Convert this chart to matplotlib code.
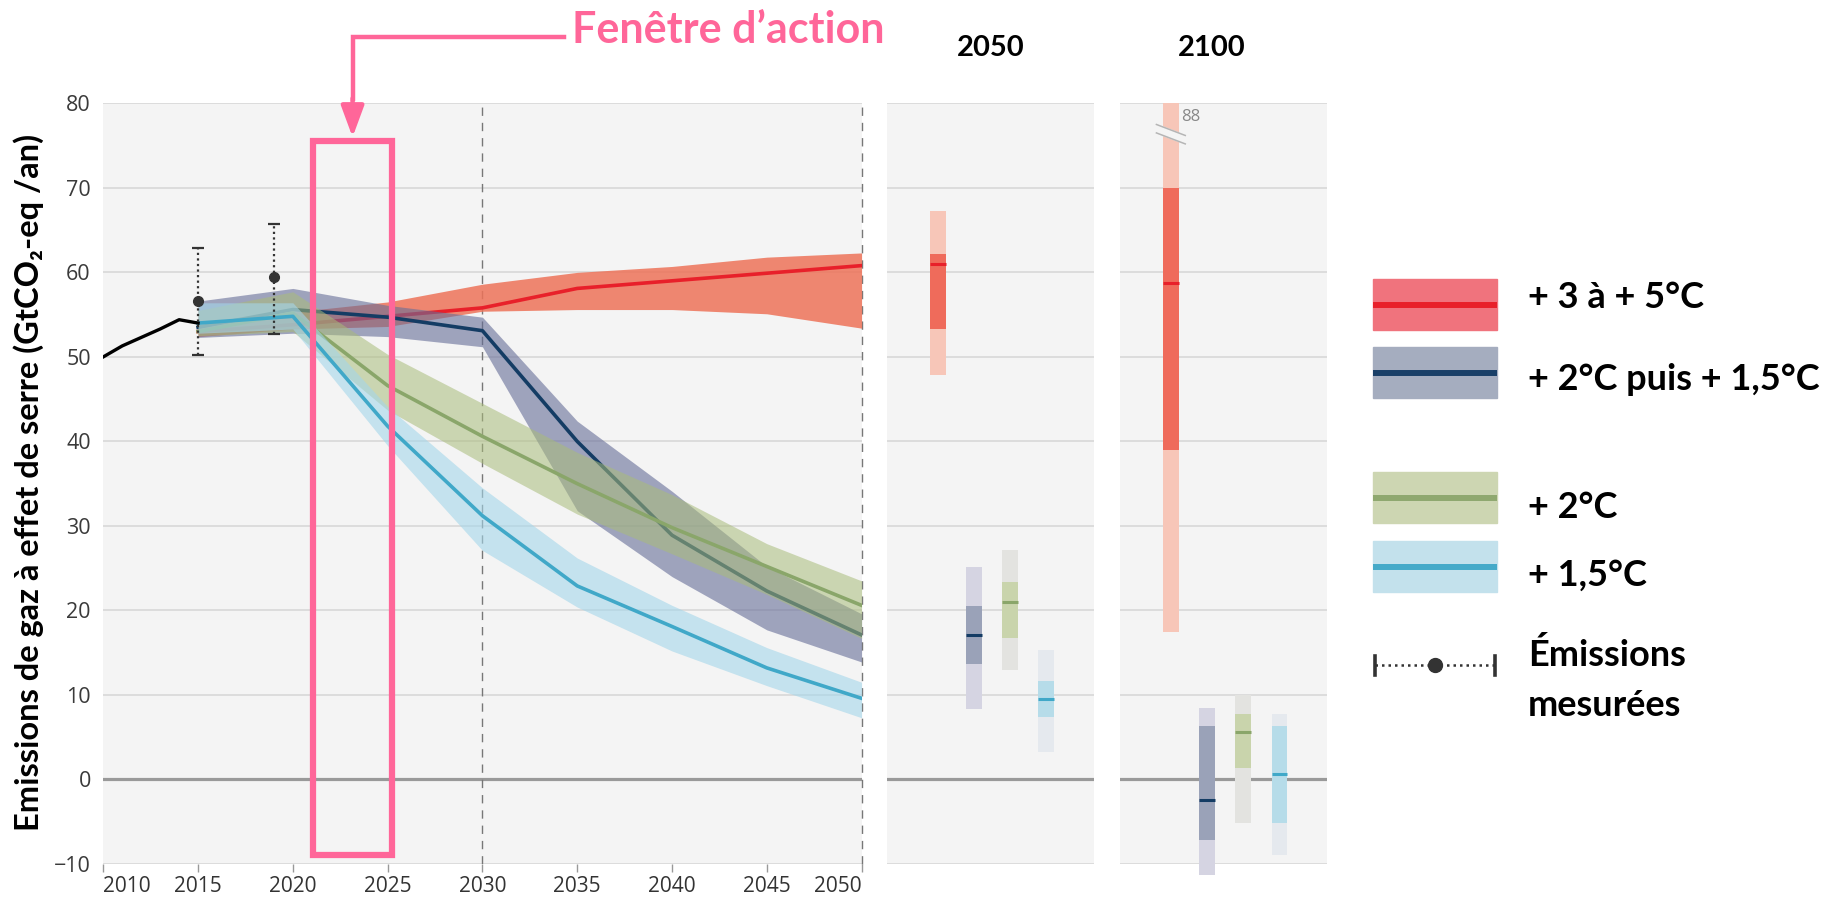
import matplotlib.pyplot as plt
from matplotlib.patches import Rectangle, Polygon

# ---- trajectories (GtCO2-eq / an) ----
years = [2015, 2020, 2025, 2030, 2035, 2040, 2045, 2050]

red_med = [53.0, 53.8, 54.8, 55.8, 58.1, 59.0, 59.9, 60.8]
red_lo = [52.4, 53.3, 53.6, 55.4, 55.6, 55.6, 55.1, 53.4]
red_hi = [53.6, 55.3, 56.5, 58.6, 60.0, 60.7, 61.8, 62.3]

navy_med = [53.5, 55.6, 54.7, 53.1, 40.0, 28.9, 22.3, 17.1]
navy_lo = [52.3, 52.8, 52.4, 51.2, 31.8, 24.0, 17.7, 13.9]
navy_hi = [56.6, 58.1, 56.1, 54.7, 42.4, 34.1, 25.2, 19.6]

green_med = [53.0, 55.2, 46.6, 40.6, 35.0, 29.8, 25.2, 20.6]
green_lo = [52.5, 53.0, 43.7, 37.4, 31.4, 26.7, 21.9, 16.7]
green_hi = [55.5, 57.7, 50.3, 44.5, 38.7, 33.7, 27.9, 23.5]

blue_med = [54.0, 54.8, 41.8, 31.2, 22.9, 18.1, 13.2, 9.6]
blue_lo = [52.8, 53.3, 39.5, 27.1, 20.4, 15.2, 11.1, 7.3]
blue_hi = [56.4, 56.4, 44.1, 34.5, 26.2, 20.6, 15.6, 11.5]

hist_years = [2010, 2011, 2012, 2013, 2014, 2015]
hist_vals = [50.0, 51.3, 52.3, 53.3, 54.4, 54.0]

meas_years = [2015, 2019]
meas_vals = [56.6, 59.4]
meas_lo = [50.2, 52.7]
meas_hi = [62.9, 65.7]

# ---- summary bars (min/max, interquartile, median) ----
labels = ['+ 3 à + 5°C', '+ 2°C puis + 1,5°C', '+ 2°C', '+ 1,5°C']
bar_pos = [1, 2, 3, 4]

y2050_lo = [47.9, 8.3, 13.0, 3.3]
y2050_hi = [67.3, 25.1, 27.2, 15.3]
y2050_q1 = [53.3, 13.7, 16.7, 7.4]
y2050_q3 = [62.2, 20.5, 23.4, 11.7]
y2050_med = [61.0, 17.1, 21.0, 9.5]

y2100_lo = [17.5, -11.3, -5.2, -8.9]
y2100_hi = [88.0, 8.5, 10.0, 7.7]
y2100_q1 = [39.0, -7.2, 1.4, -5.2]
y2100_q3 = [70.0, 6.3, 7.8, 6.3]
y2100_med = [58.8, -2.4, 5.6, 0.6]

xticks = list(range(2010, 2051, 5))
yticks = list(range(-10, 81, 10))

# ---- colours ----
band_cols = ['#ed7359', '#666d98', '#a9bc7a', '#a4d6ea']
band_alpha = [0.85, 0.6, 0.55, 0.6]
line_cols = ['#e8202a', '#143c64', '#8aa66a', '#40a8c8']
light_cols = ['#f7c6b8', '#d5d4e2', '#e3e3e0', '#e5e9ee']
dark_cols = ['#ef6b5b', '#9aa2b8', '#c9d4ac', '#b6dce9']
leg_cols = ['#f0737d', '#a5adbf', '#cdd6b2', '#c3e1ec']
leg_lines = ['#e8202a', '#1a4068', '#8fa86f', '#45aac9']
pink = '#ff6699'
bg = '#f4f4f4'
grid_c = '#d8d8d8'

fig = plt.figure(figsize=(18.25, 9.01), dpi=100)


def style_panel(ax):
    ax.set_facecolor(bg)
    ax.set_ylim(-10, 80)
    ax.set_yticks(yticks)
    ax.grid(axis='y', color=grid_c, lw=1.2)
    ax.set_axisbelow(True)
    for s in ax.spines.values():
        s.set_visible(False)
    ax.axhline(0, color='#999999', lw=2.3, zorder=1)


# ---- main panel ----
ax = fig.add_axes([0.0566, 0.0411, 0.4155, 0.8442])
style_panel(ax)
ax.set_xlim(2010, 2050)
ax.set_xticks(xticks)
ax.tick_params(axis='x', length=6, width=1, color='#999999', pad=3,
               labelsize=15, labelcolor='#333333')
ax.tick_params(axis='y', length=0, pad=9, labelsize=15.5, labelcolor='#3a3a3a')
for lab in ax.get_xticklabels() + ax.get_yticklabels():
    lab.set_family('Open Sans')
xl = ax.get_xticklabels()
xl[0].set_ha('left')
xl[-1].set_ha('right')

ax.axvline(2030, color='#777777', lw=1, ls=(0, (6, 5)), zorder=1)
ax.axvline(2050, color='#777777', lw=1, ls=(0, (6, 5)), zorder=1, clip_on=False)

series = [(red_lo, red_hi, red_med), (navy_lo, navy_hi, navy_med),
          (green_lo, green_hi, green_med), (blue_lo, blue_hi, blue_med)]
for i, (lo, hi, med) in enumerate(series):
    ax.fill_between(years, lo, hi, color=band_cols[i], alpha=band_alpha[i],
                    lw=0, zorder=2 + i)
    ax.plot(years, med, color=line_cols[i], lw=2.6, zorder=2 + i)

ax.plot(hist_years, hist_vals, color='black', lw=2.4, zorder=7)

for x, v, lo, hi in zip(meas_years, meas_vals, meas_lo, meas_hi):
    ax.vlines(x, lo, hi, color='#333333', lw=1.6, linestyles=(0, (1, 1.5)), zorder=8)
    ax.hlines([lo, hi], x - 0.3, x + 0.3, color='#333333', lw=1.6, zorder=8)
    ax.plot(x, v, 'o', color='#333333', ms=7, zorder=9)

# action window
ax.add_patch(Rectangle((2021.05, -8.9), 4.2, 84.5, fill=False, ec=pink,
                       lw=4.5, zorder=12, joinstyle='miter'))
ax.plot([2034.3, 2023.15, 2023.15], [87.9, 87.9, 80.5], color=pink, lw=3.2,
        clip_on=False, zorder=12, solid_joinstyle='miter')
ax.annotate('', xy=(2023.15, 76.0), xytext=(2023.15, 80.6),
            arrowprops=dict(arrowstyle='-|>,head_length=0.95,head_width=0.35',
                            mutation_scale=20, color=pink, lw=3.2,
                            shrinkA=0, shrinkB=0),
            annotation_clip=False, zorder=12)
ax.text(2034.75, 88.7, 'Fenêtre d’action', color=pink, fontsize=31,
        fontweight='bold', family='Lato', va='center', ha='left', clip_on=False)

# ---- summary panels ----
bw = 0.436
panels = [
    ([0.4859, 0.0411, 0.1136, 0.8442], '2050',
     (y2050_lo, y2050_hi, y2050_q1, y2050_q3, y2050_med)),
    ([0.6137, 0.0411, 0.1136, 0.8442], '2100',
     (y2100_lo, y2100_hi, y2100_q1, y2100_q3, y2100_med)),
]
for rect, title, (lo, hi, q1, q3, med) in panels:
    p = fig.add_axes(rect)
    style_panel(p)
    p.set_xlim(-0.42, 5.33)
    p.set_xticks([])
    p.tick_params(axis='y', length=0, labelleft=False)
    # bars may run a little below -10 but are cut at the top of the panel
    clip = Rectangle((-0.42, -12), 5.75, 92, transform=p.transData)
    for i, x in enumerate(bar_pos):
        b1 = p.bar(x, hi[i] - lo[i], bottom=lo[i], width=bw, color=light_cols[i],
                   zorder=3)
        b2 = p.bar(x, q3[i] - q1[i], bottom=q1[i], width=bw, color=dark_cols[i],
                   zorder=4)
        for bar in list(b1) + list(b2):
            bar.set_clip_path(clip)
        p.hlines(med[i], x - bw / 2, x + bw / 2, color=line_cols[i], lw=2.2, zorder=5)
    if title == '2100':
        tx = -0.42 + 0.44 * 5.75
        # break on the clipped bar
        x0 = bar_pos[0]
        p.add_patch(Polygon([(x0 - 0.41, 77.5), (x0 + 0.39, 76.2),
                             (x0 + 0.39, 75.2), (x0 - 0.41, 76.5)],
                            closed=True, color=bg, zorder=6))
        p.plot([x0 - 0.41, x0 + 0.39], [77.5, 76.2], color='#b5b5b5', lw=1.1, zorder=7)
        p.plot([x0 - 0.41, x0 + 0.39], [76.5, 75.2], color='#b5b5b5', lw=1.1, zorder=7)
        p.text(x0 + bw / 2 + 0.05, 78.4, '88', color='#888888', fontsize=12,
               family='Open Sans', va='center', ha='left')
    else:
        tx = -0.42 + 0.5 * 5.75
    p.text(tx, 86.6, title, ha='center', va='center', fontsize=21,
           fontweight='bold', family='Lato', clip_on=False)

fig.text(0.0155, 0.4645, 'Emissions de gaz à effet de serre (GtCO₂-eq /an)',
         rotation=90, ha='center', va='center', fontsize=23.5, fontweight='bold',
         family=['Lato', 'DejaVu Sans'])

# ---- legend (figure pixel layout) ----
lg = fig.add_axes([0, 0, 1, 1])
lg.set_xlim(0, 1825)
lg.set_ylim(901, 0)
lg.axis('off')
sw_top = [279, 347, 472, 541]
txt_y = [297, 380, 507, 575]
for i in range(4):
    lg.add_patch(Rectangle((1373, sw_top[i]), 124, 51, color=leg_cols[i]))
    lg.plot([1373, 1497], [sw_top[i] + 25.5] * 2, color=leg_lines[i], lw=4.3,
            solid_capstyle='butt')
    lg.text(1528, txt_y[i], labels[i], fontsize=26, fontweight='bold',
            family='Lato', va='center', ha='left')
lg.plot([1375, 1495], [665, 665], color='#333333', lw=1.8, ls=(0, (1, 1.6)))
lg.plot([1375, 1375], [656, 675], color='#333333', lw=2.6)
lg.plot([1495, 1495], [656, 675], color='#333333', lw=2.6)
lg.plot(1435, 665, 'o', color='#333333', ms=10)
lg.text(1528, 655, 'Émissions', fontsize=26, fontweight='bold', family='Lato',
        va='center', ha='left')
lg.text(1528, 705, 'mesurées', fontsize=26, fontweight='bold', family='Lato',
        va='center', ha='left')

fig.savefig('out.png', dpi=100)
